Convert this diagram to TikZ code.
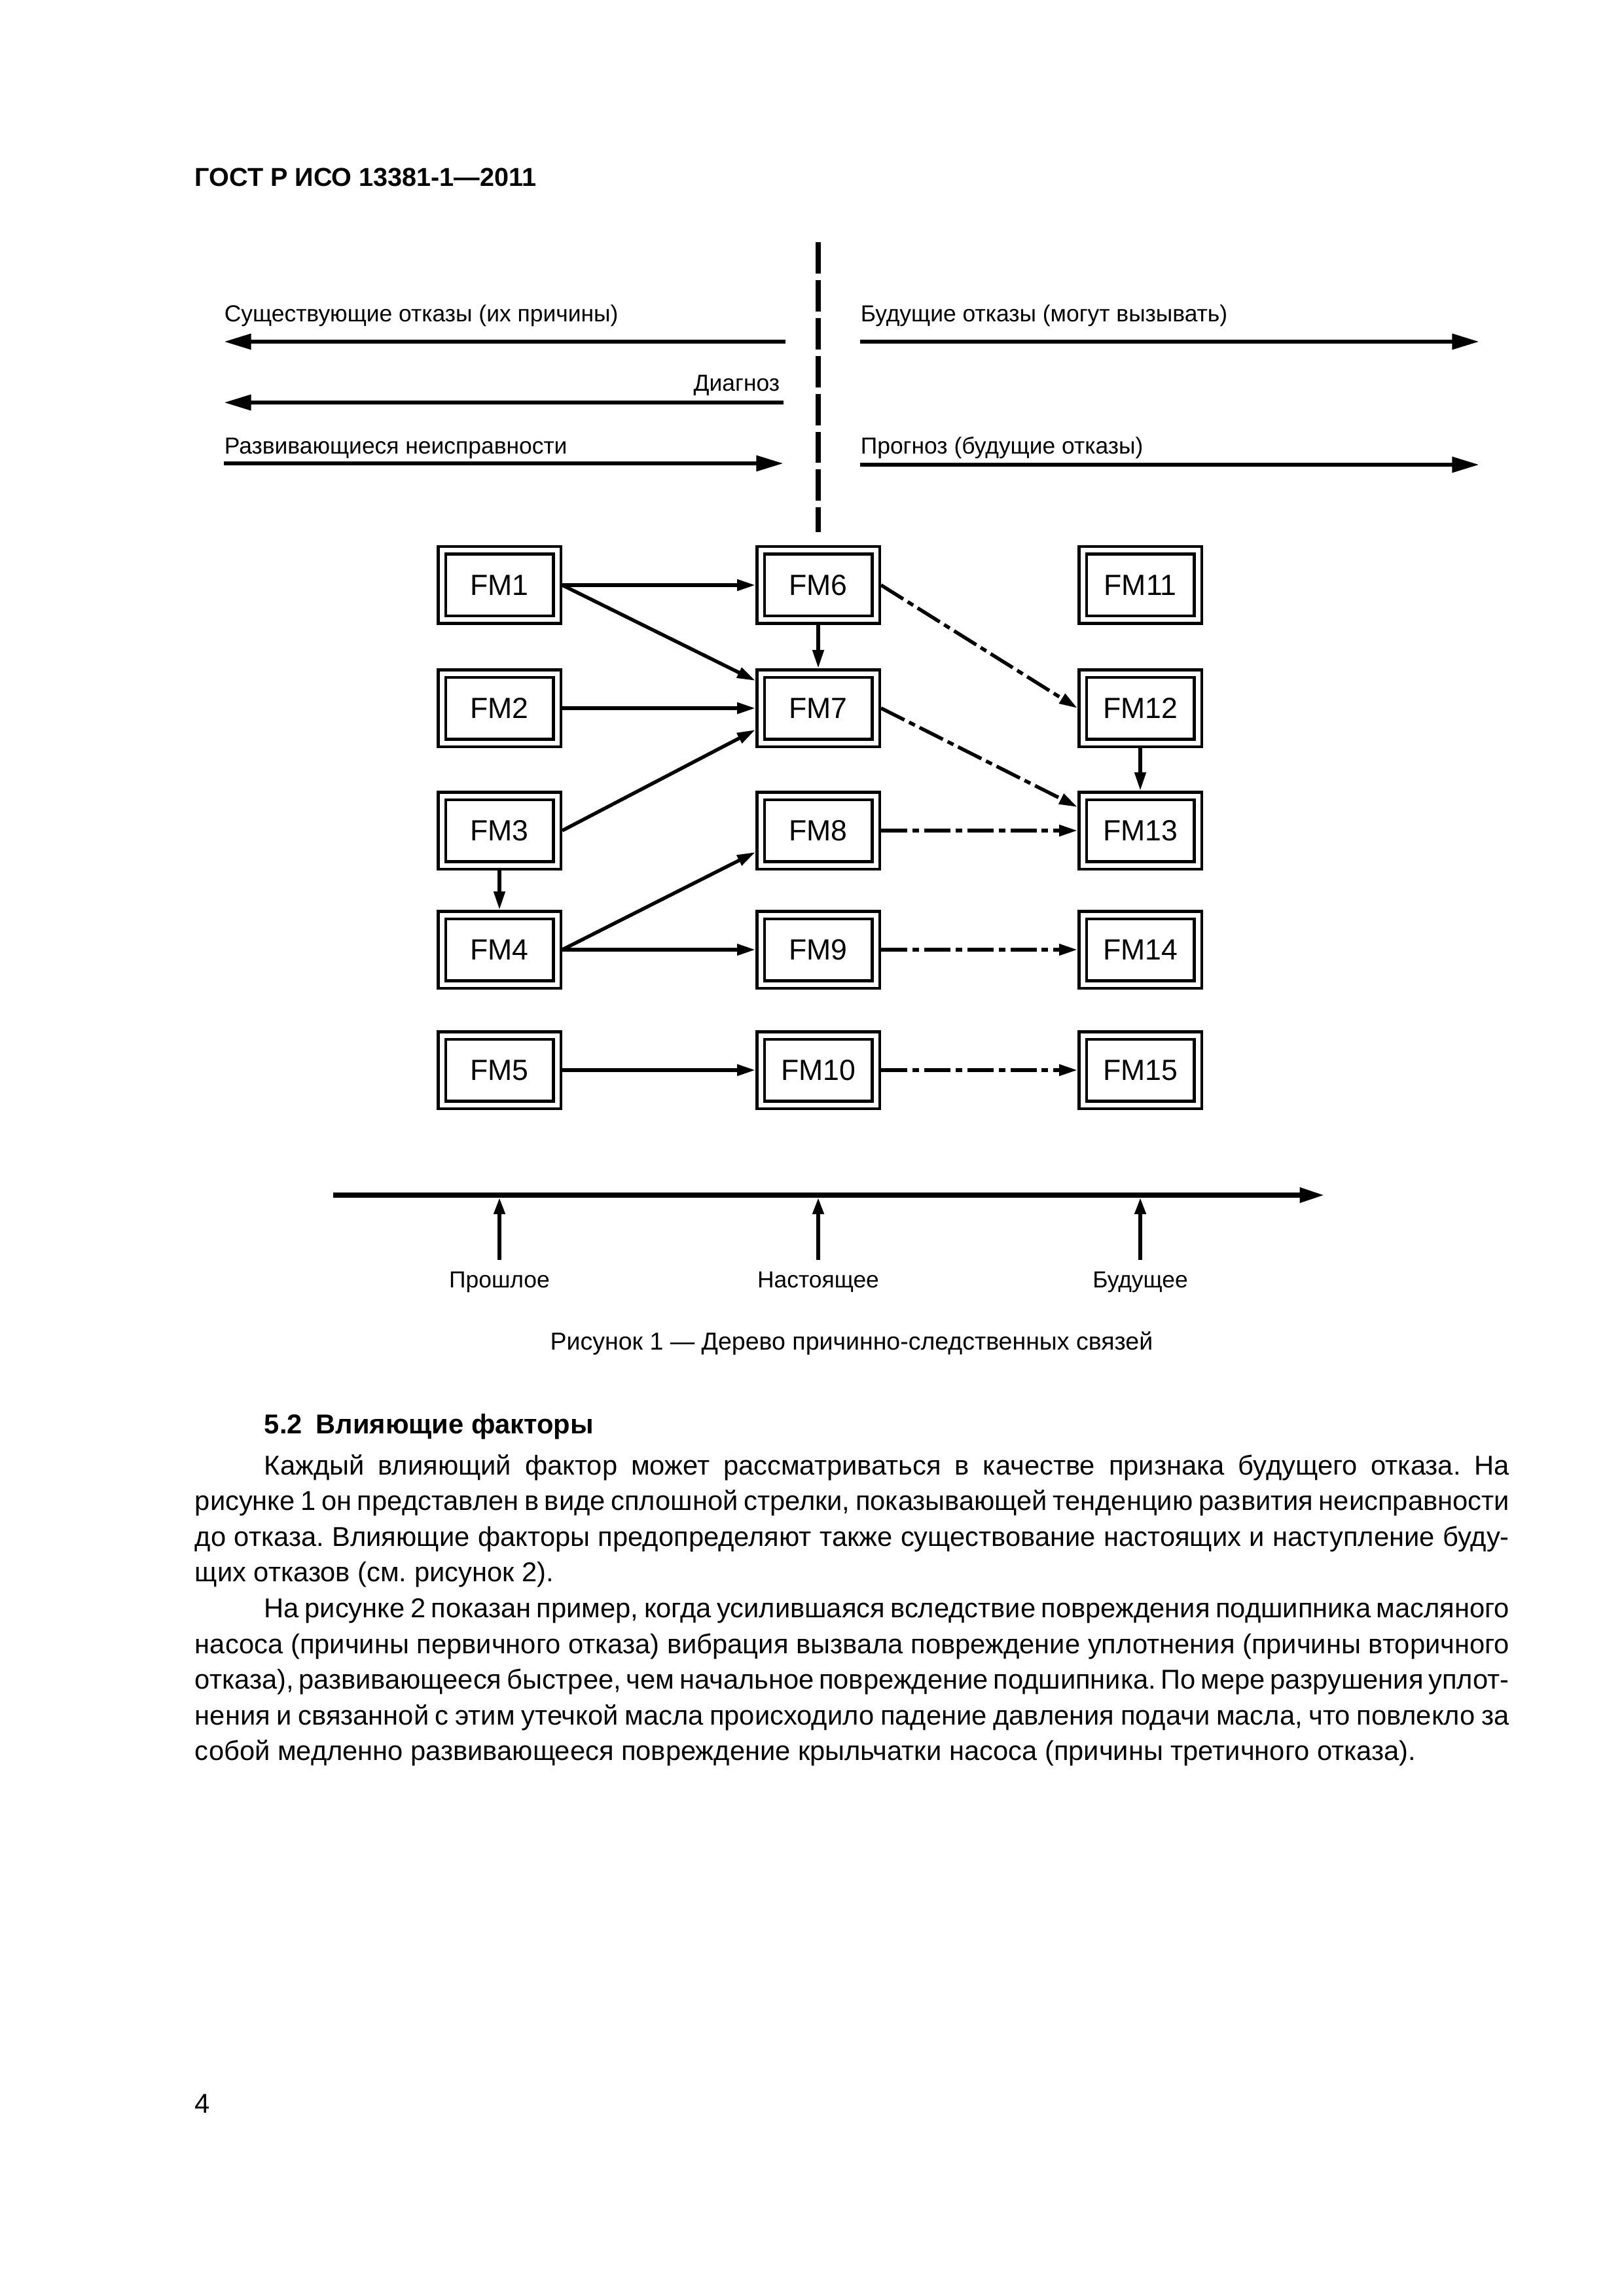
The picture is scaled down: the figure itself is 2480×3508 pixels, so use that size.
\documentclass[tikz,border=0pt]{standalone}
\usepackage{fontspec}
\setmainfont{Liberation Sans}
\usetikzlibrary{arrows.meta,calc}
\begin{document}
\frenchspacing
\begin{tikzpicture}[x=0.24pt,y=-0.24pt,
  fmbox/.style={draw, line width=1.08pt, double, double distance=1.68pt,
    minimum width=42.24pt, minimum height=25.44pt, inner sep=0pt, outer sep=1.92pt,
    font=\fontsize{10.7}{12}\selectfont},
  conn/.style={line width=1.3pt, -{Triangle[length=6.7pt,width=4pt]}},
  dconn/.style={conn, dash pattern=on 9.6pt off 1.9pt on 2.4pt off 1.9pt},
  bigarrow/.style={line width=1.6pt, -{Triangle[length=10pt,width=5.5pt]}},
  tickarrow/.style={line width=1.3pt, -{Triangle[length=6pt,width=4pt]}},
  lbl/.style={inner sep=0pt, font=\fontsize{8.5}{10}\selectfont},
  body/.style={inner sep=0pt, anchor=base west, font=\fontsize{10}{13}\selectfont},
]
\useasboundingbox (0,0) rectangle (2480,3508);

% header
\node[anchor=base west, inner sep=0pt, font=\bfseries\fontsize{9.5}{12}\selectfont] (hdr) at (297,285) {ГОСТ Р ИСО 13381-1—2011};

% vertical dashed separator
\coordinate (sepT) at (1250,370);
\coordinate (sepB) at (1250,813);
\draw[line width=2pt, dash pattern=on 11.5pt off 2.4pt] (sepT) -- (sepB);

% top arrows
\coordinate (a1s) at (1200,522); \coordinate (a1e) at (342,522);
\coordinate (a2s) at (1197,615); \coordinate (a2e) at (342,615);
\coordinate (a3s) at (342,708);  \coordinate (a3e) at (1197,708);
\coordinate (a4s) at (1314,522); \coordinate (a4e) at (2260,522);
\coordinate (a5s) at (1314,710); \coordinate (a5e) at (2260,710);
\draw[bigarrow] (a1s) -- (a1e);
\draw[bigarrow] (a2s) -- (a2e);
\draw[bigarrow] (a3s) -- (a3e);
\draw[bigarrow] (a4s) -- (a4e);
\draw[bigarrow] (a5s) -- (a5e);
\node[lbl, anchor=base west] (t1) at (342,492) {Существующие отказы (их причины)};
\node[lbl, anchor=base east] (t2) at (1192,598) {Диагноз};
\node[lbl, anchor=base west] (t3) at (342,694) {Развивающиеся неисправности};
\node[lbl, anchor=base west] (t4) at (1314,492) {Будущие отказы (могут вызывать)};
\node[lbl, anchor=base west] (t5) at (1314,694) {Прогноз (будущие отказы)};

% FM boxes
\node[fmbox] (fm1)  at (763,894)  {FM1};
\node[fmbox] (fm2)  at (763,1082) {FM2};
\node[fmbox] (fm3)  at (763,1269) {FM3};
\node[fmbox] (fm4)  at (763,1451) {FM4};
\node[fmbox] (fm5)  at (763,1635) {FM5};
\node[fmbox] (fm6)  at (1250,894)  {FM6};
\node[fmbox] (fm7)  at (1250,1082) {FM7};
\node[fmbox] (fm8)  at (1250,1269) {FM8};
\node[fmbox] (fm9)  at (1250,1451) {FM9};
\node[fmbox] (fm10) at (1250,1635) {FM10};
\node[fmbox] (fm11) at (1742,894)  {FM11};
\node[fmbox] (fm12) at (1742,1082) {FM12};
\node[fmbox] (fm13) at (1742,1269) {FM13};
\node[fmbox] (fm14) at (1742,1451) {FM14};
\node[fmbox] (fm15) at (1742,1635) {FM15};

% solid connectors
\draw[conn] (fm1.east) -- (fm6.west);
\draw[conn] (fm1.east) -- ($(fm7.west)+(0,-42)$);
\draw[conn] (fm6.south) -- (fm7.north);
\draw[conn] (fm2.east) -- (fm7.west);
\draw[conn] (fm3.east) -- ($(fm7.west)+(0,33)$);
\draw[conn] (fm3.south) -- (fm4.north);
\draw[conn] (fm4.east) -- ($(fm8.west)+(0,33)$);
\draw[conn] (fm4.east) -- (fm9.west);
\draw[conn] (fm5.east) -- (fm10.west);
\draw[conn] (fm12.south) -- (fm13.north);

% dash-dot connectors
\draw[dconn] (fm6.east) -- (fm12.west);
\draw[dconn] (fm7.east) -- ($(fm13.west)+(0,-36)$);
\draw[dconn] (fm8.east) -- (fm13.west);
\draw[dconn] (fm9.east) -- (fm14.west);
\draw[dconn] (fm10.east) -- (fm15.west);

% timeline
\coordinate (tlS) at (509,1826);
\coordinate (tlE) at (2023,1826);
\draw[line width=1.7pt, -{Triangle[length=9pt,width=5.3pt]}] (tlS) -- (tlE);
\coordinate (k1b) at (763,1925);  \coordinate (k1t) at (763,1830);
\coordinate (k2b) at (1250,1925); \coordinate (k2t) at (1250,1830);
\coordinate (k3b) at (1742,1925); \coordinate (k3t) at (1742,1830);
\draw[tickarrow] (k1b) -- (k1t);
\draw[tickarrow] (k2b) -- (k2t);
\draw[tickarrow] (k3b) -- (k3t);
\node[lbl, anchor=base] (past) at (763,1967) {Прошлое};
\node[lbl, anchor=base] (pres) at (1250,1967) {Настоящее};
\node[lbl, anchor=base] (fut)  at (1742,1967) {Будущее};

% caption
\node[inner sep=0pt, anchor=base, font=\fontsize{9}{11}\selectfont] (cap) at (1301,2062) {Рисунок 1 — Дерево причинно-следственных связей};

% section text
\node[body, font=\bfseries\fontsize{10}{13}\selectfont] (h52) at (403,2190) {5.2\hspace{0.5em}Влияющие факторы};
\node[body] (p1a) at (403,2253)   {\hbox to 456.48pt{Каждый влияющий фактор может рассматриваться в качестве признака будущего отказа. На}};
\node[body] (p1b) at (297,2307.6) {\hbox to 481.92pt{рисунке 1 он представлен в виде сплошной стрелки, показывающей тенденцию развития неисправности}};
\node[body] (p1c) at (297,2362.2) {\hbox to 481.92pt{до отказа. Влияющие факторы предопределяют также существование настоящих и наступление буду-}};
\node[body] (p1d) at (297,2416.8) {щих отказов (см. рисунок 2).};
\node[body] (p2a) at (403,2471.4) {\hbox to 456.48pt{На рисунке 2 показан пример, когда усилившаяся вследствие повреждения подшипника масляного}};
\node[body] (p2b) at (297,2526)   {\hbox to 481.92pt{насоса (причины первичного отказа) вибрация вызвала повреждение уплотнения (причины вторичного}};
\node[body] (p2c) at (297,2580.6) {\hbox to 481.92pt{отказа), развивающееся быстрее, чем начальное повреждение подшипника. По мере разрушения уплот-}};
\node[body] (p2d) at (297,2635.2) {\hbox to 481.92pt{нения и связанной с этим утечкой масла происходило падение давления подачи масла, что повлекло за}};
\node[body] (p2e) at (297,2689.8) {собой медленно развивающееся повреждение крыльчатки насоса (причины третичного отказа).};

% page number
\node[body] (pnum) at (297,3228) {4};
\end{tikzpicture}
\end{document}
